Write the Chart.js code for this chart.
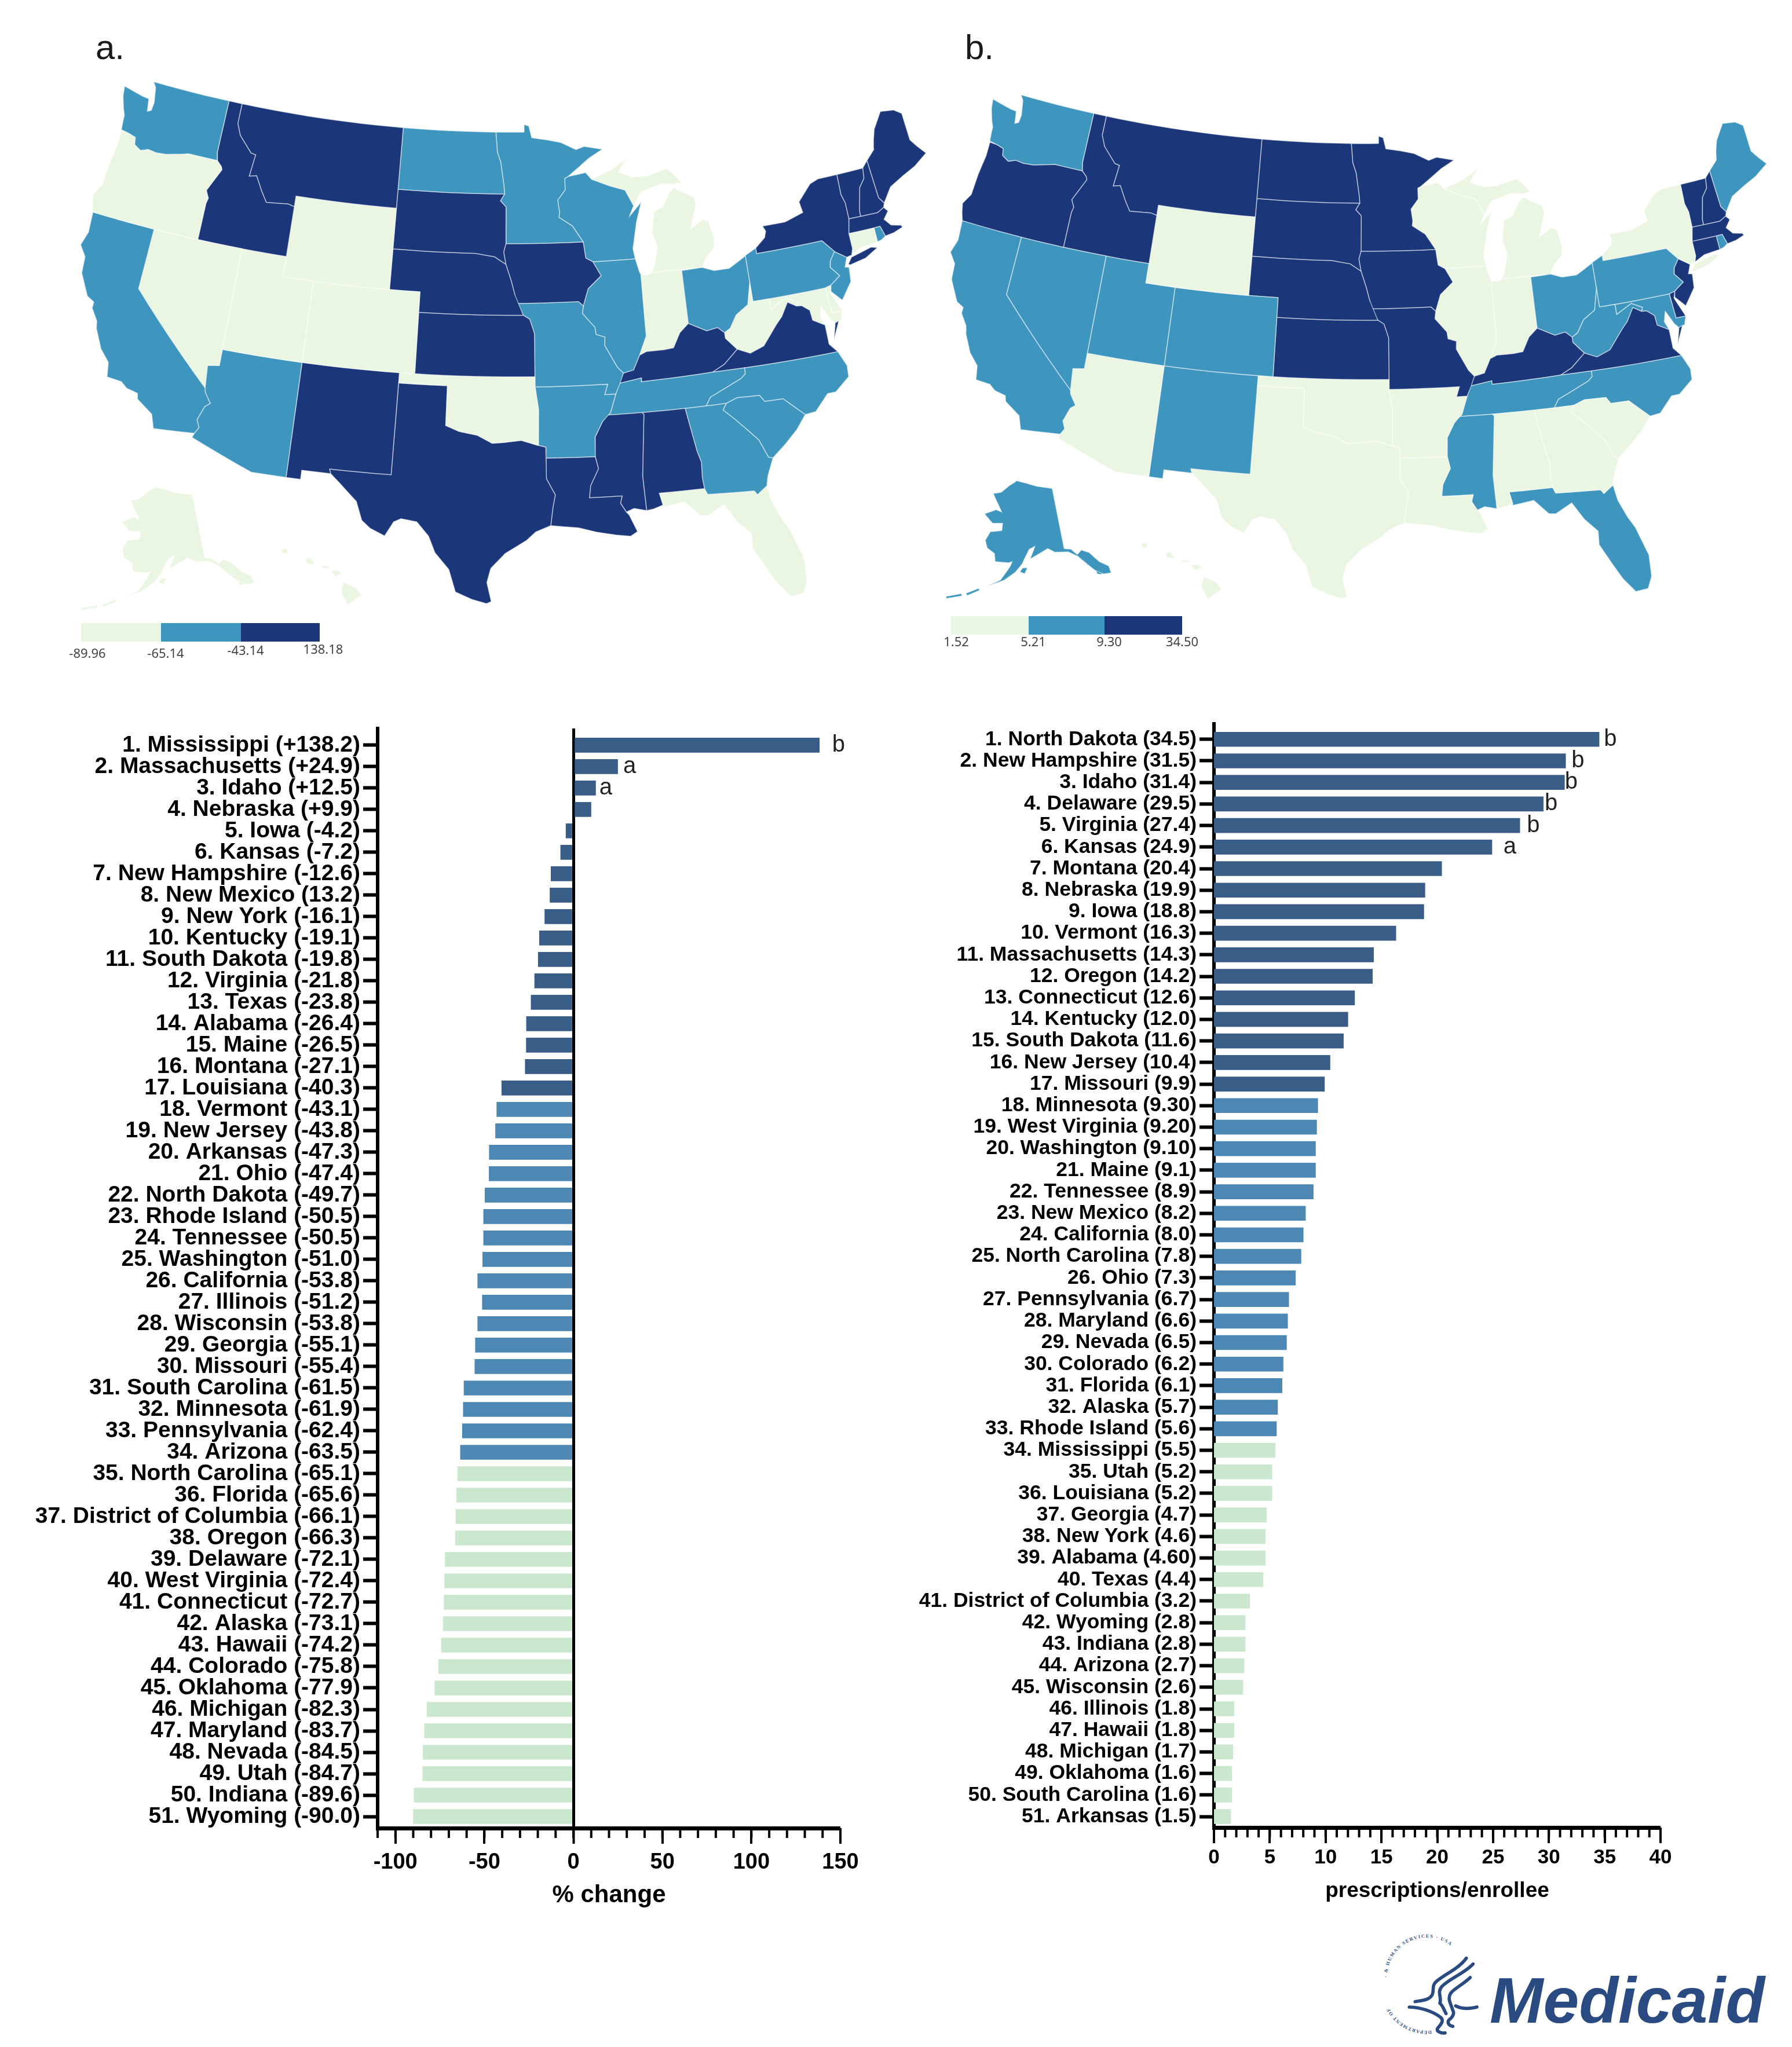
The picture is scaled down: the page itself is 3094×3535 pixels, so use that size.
<!DOCTYPE html>
<html>
<head>
<meta charset="utf-8">
<title>Medicaid prescriptions by state</title>
<script src="https://cdn.jsdelivr.net/npm/chart.js@4"></script>
<style>
html,body{margin:0;padding:0;background:#fff;}
#page{position:relative;width:3094px;height:3535px;overflow:hidden;background:#fff;font-family:"Liberation Sans",sans-serif;}
canvas{position:absolute;}
.panel{position:absolute;font-size:60px;line-height:60px;color:#1a1a1a;}
.swatch{position:absolute;}
.lbl{position:absolute;font-family:"Noto Sans",sans-serif;font-size:22px;line-height:24px;color:#444;transform:translateX(-50%);}
#medicaid{position:absolute;left:2572px;top:3393px;font-weight:bold;font-style:italic;font-size:111px;line-height:125px;color:#2a4a82;}
#emblem{position:absolute;left:2380px;top:3340px;}
</style>
</head>
<body>
<div id="page">
  <canvas id="mapA" width="1660" height="1200" style="left:0;top:0"></canvas>
  <canvas id="mapB" width="1534" height="1200" style="left:1560px;top:0"></canvas>
  <canvas id="barA" width="1560" height="2080" style="left:0;top:1240px"></canvas>
  <canvas id="barB" width="1534" height="2080" style="left:1560px;top:1240px"></canvas>
  <div class="panel" style="left:165px;top:52px">a.</div>
  <div class="panel" style="left:1666px;top:52px">b.</div>
  <svg id="emblem" width="220" height="195" viewBox="0 0 660 585">
    <defs>
      <path id="arcTop" d="M45 225 A205 205 0 0 1 430 125"/>
      <path id="arcBot" d="M275 500 A220 215 0 0 1 42 350"/>
    </defs>
    <text font-family="Liberation Serif" font-weight="bold" font-size="25" fill="#3a5488" letter-spacing="5"><textPath href="#arcTop">· &amp; HUMAN SERVICES · USA</textPath></text>
    <text font-family="Liberation Serif" font-weight="bold" font-size="25" fill="#3a5488" letter-spacing="4"><textPath href="#arcBot">DEPARTMENT OF</textPath></text>
    <g fill="none" stroke="#2a4a82" stroke-width="17" stroke-linecap="round" stroke-linejoin="round">
      <path d="M455 125 C420 175 350 205 300 245 C272 268 292 300 275 320 C255 345 215 345 190 350"/>
      <path d="M490 155 C450 200 370 230 330 270 C300 300 330 330 318 358 C335 372 340 395 350 412"/>
      <path d="M475 225 C440 260 395 280 375 305 C355 335 375 360 385 395 C395 410 385 430 365 445 C355 460 365 475 385 478"/>
      <path d="M160 378 C220 380 280 400 320 430 C345 450 320 470 305 490 C300 505 325 515 345 512"/>
      <path d="M400 372 C430 388 470 388 510 378"/>
    </g>
  </svg>
  <div id="medicaid">Medicaid</div>
</div>
<script>
// bar chart a, % change
var labelsA = ["1. Mississippi (+138.2)","2. Massachusetts (+24.9)","3. Idaho (+12.5)","4. Nebraska (+9.9)","5. Iowa (-4.2)","6. Kansas (-7.2)","7. New Hampshire (-12.6)","8. New Mexico (13.2)","9. New York (-16.1)","10. Kentucky (-19.1)","11. South Dakota (-19.8)","12. Virginia (-21.8)","13. Texas (-23.8)","14. Alabama (-26.4)","15. Maine (-26.5)","16. Montana (-27.1)","17. Louisiana (-40.3)","18. Vermont (-43.1)","19. New Jersey (-43.8)","20. Arkansas (-47.3)","21. Ohio (-47.4)","22. North Dakota (-49.7)","23. Rhode Island (-50.5)","24. Tennessee (-50.5)","25. Washington (-51.0)","26. California (-53.8)","27. Illinois (-51.2)","28. Wisconsin (-53.8)","29. Georgia (-55.1)","30. Missouri (-55.4)","31. South Carolina (-61.5)","32. Minnesota (-61.9)","33. Pennsylvania (-62.4)","34. Arizona (-63.5)","35. North Carolina (-65.1)","36. Florida (-65.6)","37. District of Columbia (-66.1)","38. Oregon (-66.3)","39. Delaware (-72.1)","40. West Virginia (-72.4)","41. Connecticut (-72.7)","42. Alaska (-73.1)","43. Hawaii (-74.2)","44. Colorado (-75.8)","45. Oklahoma (-77.9)","46. Michigan (-82.3)","47. Maryland (-83.7)","48. Nevada (-84.5)","49. Utah (-84.7)","50. Indiana (-89.6)","51. Wyoming (-90.0)"];
var valuesA = [138.2,24.9,12.5,9.9,-4.2,-7.2,-12.6,-13.2,-16.1,-19.1,-19.8,-21.8,-23.8,-26.4,-26.5,-27.1,-40.3,-43.1,-43.8,-47.3,-47.4,-49.7,-50.5,-50.5,-51.0,-53.8,-51.2,-53.8,-55.1,-55.4,-61.5,-61.9,-62.4,-63.5,-65.1,-65.6,-66.1,-66.3,-72.1,-72.4,-72.7,-73.1,-74.2,-75.8,-77.9,-82.3,-83.7,-84.5,-84.7,-89.6,-90.0];
var ticksA = [-100,-50,0,50,100,150];
var markTextA = ["b","a","a"];
var markRowA = [0,1,2];
var markValA = [149,31.6,18.2];

// bar chart b, prescriptions/enrollee
var labelsB = ["1. North Dakota (34.5)","2. New Hampshire (31.5)","3. Idaho (31.4)","4. Delaware (29.5)","5. Virginia (27.4)","6. Kansas (24.9)","7. Montana (20.4)","8. Nebraska (19.9)","9. Iowa (18.8)","10. Vermont (16.3)","11. Massachusetts (14.3)","12. Oregon (14.2)","13. Connecticut (12.6)","14. Kentucky (12.0)","15. South Dakota (11.6)","16. New Jersey (10.4)","17. Missouri (9.9)","18. Minnesota (9.30)","19. West Virginia (9.20)","20. Washington (9.10)","21. Maine (9.1)","22. Tennessee (8.9)","23. New Mexico (8.2)","24. California (8.0)","25. North Carolina (7.8)","26. Ohio (7.3)","27. Pennsylvania (6.7)","28. Maryland (6.6)","29. Nevada (6.5)","30. Colorado (6.2)","31. Florida (6.1)","32. Alaska (5.7)","33. Rhode Island (5.6)","34. Mississippi (5.5)","35. Utah (5.2)","36. Louisiana (5.2)","37. Georgia (4.7)","38. New York (4.6)","39. Alabama (4.60)","40. Texas (4.4)","41. District of Columbia (3.2)","42. Wyoming (2.8)","43. Indiana (2.8)","44. Arizona (2.7)","45. Wisconsin (2.6)","46. Illinois (1.8)","47. Hawaii (1.8)","48. Michigan (1.7)","49. Oklahoma (1.6)","50. South Carolina (1.6)","51. Arkansas (1.5)"];
var valuesB = [34.5,31.5,31.4,29.5,27.4,24.9,20.4,18.9,18.8,16.3,14.3,14.2,12.6,12.0,11.6,10.4,9.9,9.3,9.2,9.1,9.1,8.9,8.2,8.0,7.8,7.3,6.7,6.6,6.5,6.2,6.1,5.7,5.6,5.5,5.2,5.2,4.7,4.6,4.6,4.4,3.2,2.8,2.8,2.7,2.6,1.8,1.8,1.7,1.6,1.6,1.5];
var ticksB = [0,5,10,15,20,25,30,35,40];
var markTextB = ["b","b","b","b","b","a"];
var markRowB = [0,1,2,3,4,5];
var markValB = [35.5,32.6,32.0,30.2,28.6,26.5];

// map classes
var darkA = ["ID","MT","SD","NE","IA","KS","NM","TX","LA","MS","AL","KY","VA","NY","VT","NH","ME","MA"];
var midA = ["WA","CA","AZ","ND","MN","WI","IL","MO","AR","TN","NC","SC","GA","OH","PA","NJ","RI"];
var darkB = ["OR","ID","MT","ND","SD","MN","NE","IA","KS","MO","KY","VA","VT","NH","MA","CT","DE","NJ"];
var midB = ["WA","CA","NV","UT","CO","NM","TN","NC","MS","FL","OH","PA","WV","MD","ME","RI","AK"];
var legendA = ["-89.96","-65.14","-43.14","138.18"];
var legendB = ["1.52","5.21","9.30","34.50"];

// state outlines, lon,lat pairs
var WA = [-124.7,48.38,-123.2,48.15,-122.75,48.12,-122.6,47.5,-122.35,47.6,-122.3,48.0,-122.5,48.75,-122.76,49,-117.03,49,-117.04,46.42,-116.92,45.995,-118.98,46,-119.3,45.93,-120.5,45.7,-121.2,45.65,-121.8,45.7,-122.3,45.55,-122.8,45.75,-122.9,46.1,-123.4,46.2,-124,46.27,-124.07,46.7,-124.1,47,-124.3,47.3,-124.6,47.9];
var OR = [-123.97,46.22,-123.4,46.2,-122.9,46.1,-122.8,45.75,-122.3,45.55,-121.8,45.7,-121.2,45.65,-120.5,45.7,-119.3,45.93,-118.98,46,-116.92,45.995,-116.55,45.75,-116.46,45.6,-116.85,45,-117.2,44.45,-117.03,44.2,-116.95,44.1,-117.03,43.8,-117.03,42,-124.21,42,-124.4,42.4,-124.55,42.84,-124.15,43.4,-124.1,44.5,-123.95,45.5];
var CA = [-124.21,42,-120,42,-120,39,-114.63,35,-114.57,34.8,-114.14,34.3,-114.43,34.1,-114.72,33.4,-114.52,33.03,-114.72,32.72,-117.12,32.53,-117.25,32.85,-117.4,33.2,-118.4,33.75,-118.5,34.03,-119.2,34.15,-119.6,34.4,-120.5,34.45,-120.65,35.15,-121.3,35.7,-121.9,36.6,-122,36.95,-122.5,37.5,-122.5,37.8,-123,38,-123.75,39,-123.85,39.8,-124.35,40.3,-124.1,41];
var NV = [-120,42,-114.04,42,-114.04,36.2,-114.75,36.1,-114.63,35,-120,39];
var ID = [-117.03,49,-116.05,49,-116.05,48,-115.7,47.45,-114.7,46.7,-114.35,46.65,-114.5,45.56,-114,45.65,-113.45,44.95,-113,44.45,-111.5,44.55,-111.05,44.47,-111.05,42,-117.03,42,-117.03,43.8,-116.95,44.1,-117.03,44.2,-117.2,44.45,-116.85,45,-116.46,45.6,-116.55,45.75,-116.92,45.995,-117.04,46.42];
var MT = [-116.05,49,-104.05,49,-104.05,45,-111.05,45,-111.05,44.47,-111.5,44.55,-113,44.45,-113.45,44.95,-114,45.65,-114.5,45.56,-114.35,46.65,-114.7,46.7,-115.7,47.45,-116.05,48];
var WY = [-111.05,45,-104.05,45,-104.05,41,-111.05,41];
var UT = [-114.04,42,-111.05,42,-111.05,41,-109.05,41,-109.05,37,-114.04,37];
var CO = [-109.05,41,-102.05,41,-102.05,37,-109.05,37];
var AZ = [-114.04,37,-109.05,37,-109.05,31.33,-111.07,31.33,-114.81,32.5,-114.72,32.72,-114.52,33.03,-114.72,33.4,-114.43,34.1,-114.14,34.3,-114.57,34.8,-114.63,35,-114.75,36.1,-114.04,36.2];
var NM = [-109.05,37,-103,37,-103.04,32,-106.62,32,-106.53,31.78,-108.21,31.78,-108.21,31.33,-109.05,31.33];
var ND = [-104.05,49,-97.23,49,-97.1,48,-96.85,47.5,-96.6,46.3,-96.56,45.94,-104.05,45.94];
var SD = [-104.05,45.94,-96.56,45.94,-96.85,45.6,-96.45,45.3,-96.45,43.5,-96.6,43.1,-96.45,42.49,-97.2,42.85,-98.5,43,-104.05,43];
var NE = [-104.05,43,-98.5,43,-97.2,42.85,-96.45,42.49,-96.1,41.7,-95.85,41,-95.31,40,-102.05,40,-102.05,41,-104.05,41];
var KS = [-102.05,40,-95.31,40,-94.9,39.8,-94.61,39.1,-94.62,37,-102.05,37];
var OK = [-103,37,-94.62,37,-94.62,36.5,-94.43,35.4,-94.48,33.64,-95.5,33.9,-96.5,33.8,-97.2,33.75,-98.1,34.13,-99.2,34.3,-100,34.56,-100,36.5,-103,36.5];
var TX = [-106.62,32,-103.04,32,-103,36.5,-100,36.5,-100,34.56,-99.2,34.3,-98.1,34.13,-97.2,33.75,-96.5,33.8,-95.5,33.9,-94.48,33.64,-94.04,33.55,-94.04,33.02,-94.04,32,-93.55,31.2,-93.7,30.6,-93.85,29.7,-94.7,29.4,-95.2,29,-96.4,28.35,-97.2,27.6,-97.4,26.9,-97.15,25.96,-97.4,25.85,-98.2,26.05,-99.1,26.4,-99.5,27.5,-100.3,28.3,-100.7,29.1,-101.4,29.77,-102.3,29.88,-102.7,29.7,-103.15,28.98,-104,29.3,-104.5,29.65,-104.9,30.55,-106,31.4,-106.53,31.78];
var MN = [-97.23,49,-95.15,49,-95.15,49.38,-94.8,49.3,-94.6,48.72,-93.5,48.6,-92.5,48.45,-91.4,48.06,-90.8,48.2,-89.5,48,-90.5,47.6,-92.05,46.75,-92.3,46.66,-92.3,46.1,-92.85,45.6,-92.75,45,-92.8,44.75,-91.9,44.3,-91.22,43.5,-96.45,43.5,-96.45,45.3,-96.85,45.6,-96.56,45.94,-96.6,46.3,-96.85,47.5,-97.1,48];
var IA = [-96.45,43.5,-91.22,43.5,-91.1,42.7,-90.64,42.5,-90.15,41.8,-91.05,41.2,-91.42,40.38,-91.72,40.6,-95.77,40.58,-95.85,41,-96.1,41.7,-96.45,42.49,-96.6,43.1];
var MO = [-95.77,40.58,-91.72,40.6,-91.42,40.38,-91.5,40,-90.75,39.3,-90.7,38.95,-90.15,38.8,-90.2,38.4,-89.5,37.3,-89.15,36.98,-89.4,36.5,-89.7,36,-90.37,36,-90.15,36.5,-94.62,36.5,-94.62,37,-94.61,39.1,-94.9,39.8,-95.31,40];
var AR = [-94.62,36.5,-90.15,36.5,-90.37,36,-89.7,36,-90.1,35.1,-90.6,34.7,-91.1,33.95,-91.15,33,-94.04,33.02,-94.04,33.55,-94.48,33.64,-94.43,35.4];
var LA = [-94.04,33.02,-91.15,33,-91,32.4,-91.5,31.6,-91.6,31,-89.73,31,-89.85,30.65,-89.55,30.2,-89.4,30.05,-89,29.2,-89.4,29,-90.2,29.1,-91.3,29.3,-92.3,29.55,-93.85,29.7,-93.7,30.6,-93.55,31.2,-94.04,32];
var MS = [-90.3,35,-88.2,35,-88.1,34.9,-88.47,31.9,-88.4,30.2,-89.1,30.35,-89.55,30.2,-89.85,30.65,-89.73,31,-91.6,31,-91.5,31.6,-91,32.4,-91.15,33,-91.1,33.95,-90.6,34.7];
var AL = [-88.2,35,-85.6,35,-85.18,32.87,-85,32.3,-85.05,31.55,-85,31,-87.6,31,-87.45,30.4,-88,30.25,-88.4,30.2,-88.47,31.9,-88.1,34.9];
var GA = [-85.6,35,-83.1,35,-83.35,34.7,-82.75,34.2,-82,33.5,-81.5,33,-81.1,32.1,-80.85,32.03,-81.3,31.2,-81.45,30.72,-82.05,30.36,-82.2,30.57,-84.86,30.7,-85,31,-85.05,31.55,-85,32.3,-85.18,32.87];
var FL = [-87.6,31,-85,31,-84.86,30.7,-82.2,30.57,-82.05,30.36,-81.45,30.72,-81.3,29.9,-80.9,29,-80.55,28.4,-80.05,26.9,-80.1,25.8,-80.4,25.2,-81.1,25.15,-81.7,25.9,-82.15,26.7,-82.75,27.8,-82.7,28.5,-83.4,29.2,-84,30.1,-85,29.65,-85.4,29.7,-86.2,30.45,-87.45,30.3,-87.45,30.4];
var SC = [-83.35,34.7,-83.1,35,-82.4,35.2,-81.05,35.15,-80.8,34.82,-79.68,34.8,-78.55,33.85,-79.2,33.2,-80,32.6,-80.85,32.03,-81.1,32.1,-81.5,33,-82,33.5,-82.75,34.2];
var NC = [-84.32,35,-83.1,35,-82.4,35.2,-81.05,35.15,-80.8,34.82,-79.68,34.8,-78.55,33.85,-77.9,33.9,-77,34.65,-76.5,34.65,-75.55,35.25,-75.5,35.8,-75.87,36.55,-81.68,36.59,-81.7,36.3,-82,36.1,-83,35.75,-84,35.4];
var TN = [-90.3,35,-88.2,35,-85.6,35,-84.32,35,-84,35.4,-83,35.75,-82,36.1,-81.7,36.3,-81.68,36.59,-83.68,36.6,-88.07,36.5,-88.07,36.68,-89.45,36.5,-89.7,36,-90.1,35.1];
var KY = [-89.45,36.5,-88.07,36.68,-88.07,36.5,-83.68,36.6,-82.9,36.9,-81.97,37.54,-82.6,38.15,-82.6,38.42,-83,38.72,-83.7,38.63,-84.8,39.1,-85.4,38.7,-85.9,38,-86.5,37.95,-87.6,37.95,-88.05,37.8,-88.5,37.1,-89.15,36.98];
var VA = [-83.68,36.6,-81.68,36.59,-75.87,36.55,-76.3,37,-76.3,37.6,-76.3,37.95,-77,38.3,-77.05,38.8,-77.5,39.1,-77.83,39.13,-78.35,39.4,-78.87,38.76,-79.3,38.42,-80.3,37.5,-81.2,37.25,-81.97,37.54,-82.9,36.9];
var VA2 = [-75.95,37.15,-75.4,38.02,-75.65,37.95];
var WV = [-81.97,37.54,-81.2,37.25,-80.3,37.5,-79.3,38.42,-78.87,38.76,-78.35,39.4,-77.83,39.13,-77.72,39.32,-78.4,39.62,-79.48,39.2,-79.48,39.72,-80.52,39.72,-80.52,40.64,-80.87,39.6,-81.7,39.2,-82.2,38.6,-82.6,38.42,-82.6,38.15];
var OH = [-84.82,41.7,-83.45,41.73,-82.7,41.5,-81.7,41.5,-80.52,41.98,-80.52,40.64,-80.87,39.6,-81.7,39.2,-82.2,38.6,-82.6,38.42,-83,38.72,-83.7,38.63,-84.8,39.1];
var IN = [-87.52,41.7,-87.1,41.65,-86.8,41.76,-84.82,41.76,-84.8,39.1,-85.4,38.7,-85.9,38,-86.5,37.95,-87.6,37.95,-88.05,37.8,-87.53,38.7,-87.53,39.35];
var IL = [-90.64,42.5,-87.8,42.5,-87.6,41.85,-87.52,41.7,-87.53,39.35,-87.53,38.7,-88.05,37.8,-88.5,37.1,-89.15,36.98,-89.5,37.3,-90.2,38.4,-90.15,38.8,-90.7,38.95,-90.75,39.3,-91.5,40,-91.42,40.38,-91.05,41.2,-90.15,41.8];
var WI = [-92.3,46.66,-92.05,46.75,-90.8,46.9,-90.4,46.55,-89.1,46.15,-88.1,45.9,-87.6,45.1,-87.95,44.6,-87.05,45.25,-87.5,44.3,-87.9,43,-87.8,42.5,-90.64,42.5,-91.1,42.7,-91.22,43.5,-91.9,44.3,-92.8,44.75,-92.75,45,-92.85,45.6,-92.3,46.1];
var MI = [-86.8,41.76,-84.82,41.76,-83.45,41.73,-83.1,42.2,-82.5,42.6,-82.4,43,-82.6,43.9,-83,44.05,-83.9,43.65,-83.3,44.85,-83.4,45.2,-84.7,45.78,-85.1,45.5,-85.6,44.9,-86.25,44.7,-86.5,43.7,-86.25,43,-86.6,42];
var MI2 = [-90.4,46.55,-89.1,46.15,-88.1,45.9,-87.6,45.1,-87,45.75,-85.5,46.05,-84.7,45.95,-84.1,46,-84.6,46.45,-85,46.75,-86.5,46.5,-87.5,46.5,-88.45,46.8,-87.8,47.45,-89,46.95];
var PA = [-80.52,42,-79.76,42.27,-79.76,42,-75.35,42,-74.7,41.36,-75.1,40.95,-75.2,40.65,-74.72,40.15,-75.4,39.8,-75.8,39.72,-80.52,39.72];
var NY = [-79.76,42.27,-79.05,42.7,-78.9,43,-79.05,43.27,-77.5,43.27,-76.2,43.55,-76.3,44.1,-75.3,44.85,-74.7,45,-73.35,45,-73.4,44,-73.25,43.55,-73.27,42.75,-73.5,42.05,-73.5,41.3,-73.65,41,-74,40.95,-74.7,41.36,-75.35,42,-79.76,42];
var NY2 = [-74,40.6,-73.7,40.9,-72.3,41.15,-71.9,41.05,-72.8,40.7,-73.9,40.55];
var NJ = [-74.7,41.36,-74,40.95,-74.25,40.5,-74,40.45,-74.1,39.75,-74.9,38.95,-75.5,39.5,-75.4,39.8,-74.72,40.15,-75.2,40.65,-75.1,40.95];
var DE = [-75.8,39.72,-75.4,39.8,-75.55,39.45,-75.05,38.45,-75.7,38.45];
var MD = [-79.48,39.72,-75.8,39.72,-75.7,38.45,-75.05,38.45,-75.25,38.03,-75.65,37.95,-75.9,38.2,-76.3,38.9,-76.5,38.4,-76.3,37.95,-77,38.3,-77.05,38.8,-77.5,39.1,-77.83,39.13,-77.72,39.32,-78.4,39.62,-79.48,39.2];
var DC = [-77.12,38.93,-77.04,39,-76.91,38.89,-77.04,38.79];
var CT = [-73.5,42.05,-71.8,42.02,-71.8,41.32,-72.9,41.25,-73.65,41,-73.5,41.3];
var RI = [-71.8,42.02,-71.38,42.02,-71.2,41.5,-71.5,41.37,-71.8,41.32];
var MA = [-73.5,42.05,-73.27,42.75,-71.3,42.7,-70.82,42.87,-70.6,42.65,-71,42.3,-70.65,41.95,-70,41.8,-70.2,42.05,-69.95,41.7,-70.6,41.55,-71.2,41.5,-71.38,42.02,-71.8,42.02];
var VT = [-73.35,45,-71.5,45,-71.6,44.5,-72.05,44.1,-72.45,43,-72.46,42.73,-73.27,42.75,-73.25,43.55,-73.4,44];
var NH = [-71.5,45,-71.08,45.3,-70.98,43.4,-70.7,43.07,-70.82,42.87,-71.3,42.7,-72.46,42.73,-72.45,43,-72.05,44.1,-71.6,44.5];
var ME = [-71.08,45.3,-70.4,45.75,-70.25,46.2,-70,46.7,-69.23,47.46,-68.3,47.35,-67.8,47.07,-67.8,45.7,-67.45,45.3,-67,44.85,-68,44.4,-69,44.1,-70,43.75,-70.7,43.07,-70.98,43.4];
var AK = [-141,69.65,-144,70,-148,70.4,-152,70.9,-156.5,71.3,-160,70.4,-163,69.3,-166.2,68.9,-163.2,67.2,-161.8,66.3,-164,66.55,-168,65.6,-164.5,64.4,-161,64.6,-161,63.5,-164.8,63.1,-166,61.7,-165,60.6,-162.5,59.9,-162,58.7,-158,58.7,-157,58.9,-157.5,58.2,-160,56,-163,55,-164.8,54.6,-162.5,55.1,-159,56,-156,57.3,-154,58.6,-153.2,59.5,-151.8,60.8,-150,61.2,-151.7,59.3,-149,60,-146,60.7,-144,60,-140,59.7,-137.5,58.7,-135.5,57.2,-134,56,-132,55,-130,54.8,-130,55.9,-132,57,-134,58.8,-136,59.5,-137.5,59,-139,60,-141,60.3];
var AK2 = [-154.7,57.4,-153.9,58,-152.5,58,-153.3,57.1];
var AK3 = [-168.4,53.2,-165.5,54.3,-165,54.1,-168,52.9];
var AK4 = [-173,52,-169.5,53,-169.2,52.7,-172.8,51.7];
var AK5 = [-135.8,58,-134.6,58.2,-134.5,57,-135.6,57];
var AK6 = [-133.8,56.3,-132,56,-132.5,55,-133.6,55.3];
var HI1 = [-155.9,20.25,-155.1,19.9,-154.8,19.5,-155.65,18.95,-156.05,19.7];
var HI2 = [-156.7,20.9,-156.25,20.95,-156,20.75,-156.4,20.58];
var HI3 = [-158.25,21.55,-157.95,21.7,-157.65,21.3,-158.1,21.3];
var HI4 = [-159.75,22.1,-159.4,22.22,-159.3,21.95,-159.6,21.9];
var HI5 = [-157.25,21.2,-156.75,21.17,-156.85,21.05,-157.25,21.08];

var lowerParts = [WA,OR,CA,NV,ID,MT,WY,UT,CO,AZ,NM,ND,SD,NE,KS,OK,TX,MN,IA,MO,AR,LA,MS,AL,GA,FL,SC,NC,TN,KY,VA,VA2,WV,OH,IN,IL,WI,MI,MI2,PA,NY,NY2,NJ,MD,DE,DC,CT,RI,MA,VT,NH,ME];
var lowerCodes = ["WA","OR","CA","NV","ID","MT","WY","UT","CO","AZ","NM","ND","SD","NE","KS","OK","TX","MN","IA","MO","AR","LA","MS","AL","GA","FL","SC","NC","TN","KY","VA","VA","WV","OH","IN","IL","WI","MI","MI","PA","NY","NY","NJ","MD","DE","DC","CT","RI","MA","VT","NH","ME"];
var alaskaParts = [AK,AK2,AK3,AK4,AK5,AK6];
var hawaiiParts = [HI1,HI2,HI3,HI4,HI5];

var DARK_MAP = "#1b377a", MID_MAP = "#3e96bf", LIGHT_MAP = "#eaf6e2";
var DARK_BAR = "#3a5d88", MID_BAR = "#4d87b3", LIGHT_BAR = "#cbe8cf";

function rad(d){return d*Math.PI/180;}
// conic equal-area, standard parallels p1,p2
function conic(lon,lat,p1,p2,lon0,lat0){
  var n=(Math.sin(rad(p1))+Math.sin(rad(p2)))/2;
  var c=Math.pow(Math.cos(rad(p1)),2)+2*n*Math.sin(rad(p1));
  var r0=Math.sqrt(c-2*n*Math.sin(rad(lat0)))/n;
  var r=Math.sqrt(c-2*n*Math.sin(rad(lat)))/n;
  var t=n*rad(lon-lon0);
  return [r*Math.sin(t),r0-r*Math.cos(t)];
}
// long edges have to follow the curved parallels
function closeAndSplit(flat){
  var out=[];
  var n=flat.length/2;
  for(var i=0;i<n;i++){
    var a=flat[i*2],b=flat[i*2+1],c=flat[(i+1)%n*2],d=flat[(i+1)%n*2+1];
    var steps=Math.max(1,Math.ceil(Math.abs(c-a)));
    for(var s=0;s<steps;s++) out.push([a+(c-a)*s/steps,b+(d-b)*s/steps]);
  }
  out.push(out[0]);
  return out;
}
function mapDatasets(darkCodes,midCodes,view){
  var sets=[];
  function colorOf(code){
    if(darkCodes.indexOf(code)>=0) return DARK_MAP;
    if(midCodes.indexOf(code)>=0) return MID_MAP;
    return LIGHT_MAP;
  }
  function add(points,code){
    sets.push({label:code,data:points,showLine:true,fill:"shape",backgroundColor:colorOf(code),
      borderColor:"rgba(255,255,255,0.55)",borderWidth:1.5,pointRadius:0,tension:0});
  }
  lowerParts.forEach(function(p,i){
    add(closeAndSplit(p).map(function(q){
      var m=conic(q[0],q[1],29.5,45.5,-96,37.5);
      return {x:view.x0+view.kx*m[0],y:view.y0-view.ky*m[1]};
    }),lowerCodes[i]);
  });
  alaskaParts.forEach(function(p){
    add(closeAndSplit(p).map(function(q){
      var m=conic(q[0],q[1],55,65,-154,65);
      return {x:view.ax+view.ak*m[0],y:view.ay-view.ak*m[1]};
    }),"AK");
  });
  hawaiiParts.forEach(function(p){
    add(closeAndSplit(p).map(function(q){
      return {x:view.hx+view.hk*0.94*(q[0]+157.5),y:view.hy-view.hk*(q[1]-20.5)};
    }),"HI");
  });
  return sets;
}
function drawMap(id,w,h,darkCodes,midCodes,view){
  new Chart(document.getElementById(id),{
    type:"scatter",
    data:{datasets:mapDatasets(darkCodes,midCodes,view)},
    options:{
      responsive:false,animation:false,devicePixelRatio:1,
      layout:{padding:0},
      plugins:{legend:{display:false},tooltip:{enabled:false}},
      scales:{
        x:{type:"linear",min:0,max:w,display:false},
        y:{type:"linear",min:0,max:h,reverse:true,display:false}
      }
    }
  });
}

// minor axis ticks and the a/b letters
var barExtras={
  id:"barExtras",
  afterDatasetsDraw:function(chart,args,o){
    var ctx=chart.ctx,x=chart.scales.x,y=chart.scales.y,area=chart.chartArea;
    ctx.save();
    ctx.strokeStyle="#000";
    ctx.lineWidth=4;
    for(var v=x.min;v<=x.max;v+=o.minorStep){
      var px=x.getPixelForValue(v);
      ctx.beginPath();ctx.moveTo(px,area.bottom);ctx.lineTo(px,area.bottom+o.minorLen);ctx.stroke();
    }
    ctx.fillStyle="#222";
    ctx.font="40px 'Liberation Sans'";
    ctx.textAlign="center";
    ctx.textBaseline="middle";
    o.text.forEach(function(t,i){
      ctx.fillText(t,x.getPixelForValue(o.vals[i]),y.getPixelForValue(o.rows[i]));
    });
    ctx.restore();
  }
};

function drawBars(id,cfg){
  var colors=cfg.values.map(function(v,i){return i<cfg.darkCount?DARK_BAR:(i<cfg.darkCount+cfg.midCount?MID_BAR:LIGHT_BAR);});
  var font={family:"'Liberation Sans'",weight:"bold",size:cfg.fontSize};
  new Chart(document.getElementById(id),{
    type:"bar",
    plugins:[barExtras],
    data:{
      labels:cfg.labels,
      datasets:[{data:cfg.values.map(function(v,i){return {x:v,y:i};}),backgroundColor:colors,barThickness:25,borderWidth:0}]
    },
    options:{
      indexAxis:"y",responsive:false,animation:false,devicePixelRatio:1,
      layout:{padding:{top:cfg.top,right:cfg.right,left:0,bottom:0}},
      plugins:{legend:{display:false},tooltip:{enabled:false},
        barExtras:{minorStep:cfg.minorStep,minorLen:17,text:cfg.markText,vals:cfg.markVal,rows:cfg.markRow}},
      scales:{
        x:{
          type:"linear",min:cfg.min,max:cfg.max,
          border:{display:true,color:"#000",width:7},
          grid:{
            tickLength:27,tickWidth:4,tickColor:"#000",
            color:function(c){return c.tick&&c.tick.value===0&&cfg.min<0?"#000":"transparent";},
            lineWidth:function(c){return c.tick&&c.tick.value===0&&cfg.min<0?5:0;}
          },
          afterBuildTicks:function(s){s.ticks=cfg.ticks.map(function(v){return {value:v};});},
          afterFit:function(s){s.height=cfg.xHeight;s.paddingLeft=0;s.paddingRight=0;},
          ticks:{color:"#000",font:{family:"'Liberation Sans'",weight:"bold",size:cfg.xFontSize},padding:cfg.xPad,maxRotation:0,autoSkip:false,
            callback:function(v){return String(v);}},
          title:{display:true,text:cfg.title,color:"#000",font:{family:"'Liberation Sans'",weight:"bold",size:cfg.titleSize},padding:{top:0,bottom:cfg.titlePad}}
        },
        y:{
          type:"linear",reverse:true,min:cfg.rowMin,max:cfg.rowMax,offset:false,
          border:{display:true,color:"#000",width:6},
          grid:{offset:false,drawOnChartArea:false,tickLength:25,tickWidth:6,tickColor:"#000"},
          afterBuildTicks:function(s){s.ticks=cfg.labels.map(function(l,i){return {value:i};});},
          afterFit:function(s){s.width=cfg.yWidth;s.paddingTop=0;s.paddingBottom=0;},
          ticks:{color:"#000",font:font,padding:5,autoSkip:false,
            callback:function(v){return cfg.labels[v];}}
        }
      }
    }
  });
}

function addLegend(left,top,width,height,stops,colors,labels,labelX,labelY){
  var page=document.getElementById("page");
  colors.forEach(function(c,i){
    var d=document.createElement("div");
    d.className="swatch";
    d.style.cssText="left:"+(left+stops[i]*width)+"px;top:"+top+"px;width:"+((stops[i+1]-stops[i])*width)+"px;height:"+height+"px;background:"+c;
    page.appendChild(d);
  });
  labels.forEach(function(t,i){
    var d=document.createElement("div");
    d.className="lbl";
    d.textContent=t;
    d.style.left=labelX[i]+"px";
    d.style.top=(labelY[i]-12)+"px";
    page.appendChild(d);
  });
}

drawMap("mapA",1660,1200,darkA,midA,{x0:885,y0:633,kx:2024,ky:2010,ax:278,ay:915,ak:680,hx:548,hy:998,hk:30});
drawMap("mapB",1534,1200,darkB,midB,{x0:801,y0:638.5,kx:1954,ky:1940,ax:205,ay:901,ak:650,hx:473,hy:988,hk:30});

drawBars("barA",{labels:labelsA,values:valuesA,ticks:ticksA,markText:markTextA,markRow:markRowA,markVal:markValA,
  darkCount:17,midCount:17,min:-110,max:150,minorStep:10,rowMin:-0.78,rowMax:50.54,
  title:"% change",titleSize:42,fontSize:39,xFontSize:38,xPad:10,titlePad:21,top:18,right:109,yWidth:652,xHeight:163});
drawBars("barB",{labels:labelsB,values:valuesB,ticks:ticksB,markText:markTextB,markRow:markRowB,markVal:markValB,
  darkCount:17,midCount:16,min:0,max:40,minorStep:1,rowMin:-0.72,rowMax:50.51,
  title:"prescriptions/enrollee",titleSize:37,fontSize:35.5,xFontSize:35,xPad:4,titlePad:32,top:10,right:227,yWidth:536,xHeight:164});

var colors3 = [LIGHT_MAP,MID_MAP,DARK_MAP];
addLegend(140,1076,412,32,[0,0.335,0.67,1],colors3,legendA,[151,286,424,558],[1127,1127,1122,1120]);
addLegend(1642,1064,399,32,[0,0.336,0.665,1],colors3,legendB,[1651,1784,1915,2041],[1107,1107,1107,1107]);
</script>
</body>
</html>
